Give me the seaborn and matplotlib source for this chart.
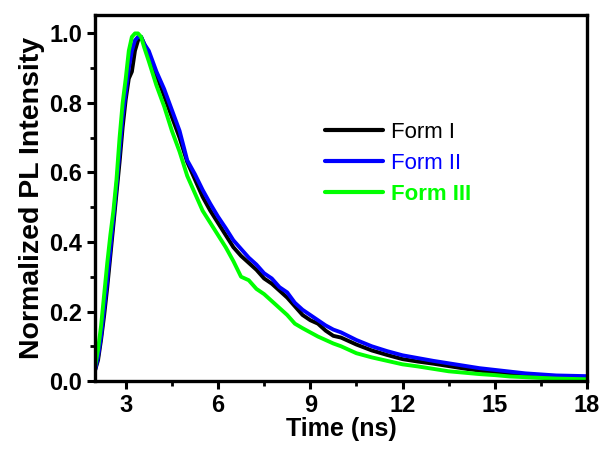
import numpy as np
import pandas as pd
import seaborn as sns
import matplotlib.pyplot as plt
from matplotlib.ticker import MultipleLocator

# time axis (ns) shared by the three decays
time_ns = [2.0, 2.1, 2.2, 2.3, 2.4, 2.5, 2.6, 2.7, 2.8, 2.9, 3.0, 3.1, 3.2, 3.3, 3.4,
           3.5, 3.6, 3.75, 4.0, 4.25, 4.5, 4.75, 5.0, 5.25, 5.5, 5.75, 6.0, 6.25, 6.5,
           6.75, 7.0, 7.25, 7.5, 7.75, 8.0, 8.25, 8.5, 8.75, 9.0, 9.25, 9.5, 9.75, 10.0,
           10.5, 11.0, 11.5, 12.0, 12.5, 13.0, 13.5, 14.0, 14.5, 15.0, 15.5, 16.0, 16.5,
           17.0, 17.5, 18.0]

form_1 = [0.03, 0.06, 0.12, 0.19, 0.27, 0.36, 0.45, 0.54, 0.63, 0.73, 0.81, 0.87, 0.89, 0.95, 0.98,
          0.99, 0.97, 0.94, 0.88, 0.82, 0.76, 0.70, 0.63, 0.58, 0.53, 0.49, 0.455, 0.42, 0.385,
          0.36, 0.34, 0.32, 0.295, 0.28, 0.26, 0.24, 0.215, 0.19, 0.175, 0.165, 0.145, 0.13, 0.125,
          0.105, 0.088, 0.075, 0.063, 0.056, 0.05, 0.043, 0.036, 0.03, 0.024, 0.02, 0.016, 0.013,
          0.01, 0.009, 0.008]

form_2 = [0.03, 0.07, 0.13, 0.21, 0.29, 0.38, 0.47, 0.56, 0.66, 0.76, 0.83, 0.90, 0.95, 0.98, 0.99,
          0.99, 0.97, 0.95, 0.89, 0.84, 0.78, 0.72, 0.635, 0.595, 0.55, 0.51, 0.473, 0.44, 0.405,
          0.38, 0.355, 0.335, 0.31, 0.295, 0.27, 0.255, 0.225, 0.205, 0.19, 0.175, 0.16, 0.148, 0.14,
          0.118, 0.10, 0.086, 0.074, 0.066, 0.058, 0.051, 0.044, 0.037, 0.032, 0.027, 0.022, 0.019,
          0.016, 0.015, 0.014]

form_3 = [0.04, 0.09, 0.16, 0.25, 0.34, 0.42, 0.49, 0.58, 0.70, 0.80, 0.87, 0.95, 0.99, 1.0, 1.0,
          0.99, 0.96, 0.92, 0.85, 0.79, 0.72, 0.66, 0.59, 0.54, 0.49, 0.455, 0.42, 0.385, 0.345,
          0.30, 0.29, 0.265, 0.25, 0.23, 0.21, 0.19, 0.165, 0.152, 0.14, 0.128, 0.118, 0.108, 0.10,
          0.08, 0.068, 0.058, 0.048, 0.042, 0.035, 0.028, 0.024, 0.02, 0.017, 0.013, 0.011, 0.009,
          0.007, 0.006, 0.005]

labels = ['Form I', 'Form II', 'Form III']
colors = ['#000000', '#0000ff', '#00ff00']

df = pd.concat([pd.DataFrame({'Time': time_ns, 'PL': vals, 'Sample': lab})
                for lab, vals in zip(labels, [form_1, form_2, form_3])])

sns.set_style('ticks')
plt.rcParams['font.family'] = ['Liberation Sans', 'DejaVu Sans']
plt.rcParams['font.weight'] = 'bold'
for key in ['text.color', 'axes.labelcolor', 'xtick.color', 'ytick.color', 'axes.edgecolor']:
    plt.rcParams[key] = 'black'

fig = plt.figure(figsize=(6.03, 4.49), dpi=100)
ax = fig.add_axes([0.1575, 0.1514, 0.816, 0.8152])

sns.lineplot(data=df, x='Time', y='PL', hue='Sample', palette=dict(zip(labels, colors)),
             estimator=None, linewidth=2.8, ax=ax)

ax.set_xlim(2, 18)
ax.set_ylim(0, 1.053)
ax.xaxis.set_major_locator(MultipleLocator(3))
ax.xaxis.set_minor_locator(MultipleLocator(1.5))
ax.yaxis.set_major_locator(MultipleLocator(0.2))
ax.yaxis.set_minor_locator(MultipleLocator(0.1))
ax.tick_params(which='major', direction='out', length=6, width=2.2, labelsize=17, pad=3)
ax.tick_params(which='minor', direction='out', length=3.5, width=2.0)
for s in ax.spines.values():
    s.set_linewidth(2.4)
    s.set_visible(True)
ax.yaxis.set_major_formatter(plt.FormatStrFormatter('%.1f'))
ax.set_xticks([3, 6, 9, 12, 15, 18])
ax.set_xticklabels(['3', '6', '9', '12', '15', '18'])

ax.set_xlabel('Time (ns)', fontsize=18, fontweight='bold', labelpad=0)
ax.set_ylabel('Normalized PL Intensity', fontsize=20.5, fontweight='bold', labelpad=3)

leg = ax.legend(loc='upper left', bbox_to_anchor=(0.539, 0.728), bbox_transform=fig.transFigure,
                frameon=False, borderpad=0, borderaxespad=0, handlelength=2.6,
                handletextpad=0.36, labelspacing=0.44, prop={'weight': 'normal', 'size': 16})
for txt, c in zip(leg.get_texts(), colors):
    txt.set_color(c)
leg.get_texts()[2].set_fontweight('bold')
for line in leg.get_lines():
    line.set_linewidth(3)

fig.savefig('out.png', dpi=100)
